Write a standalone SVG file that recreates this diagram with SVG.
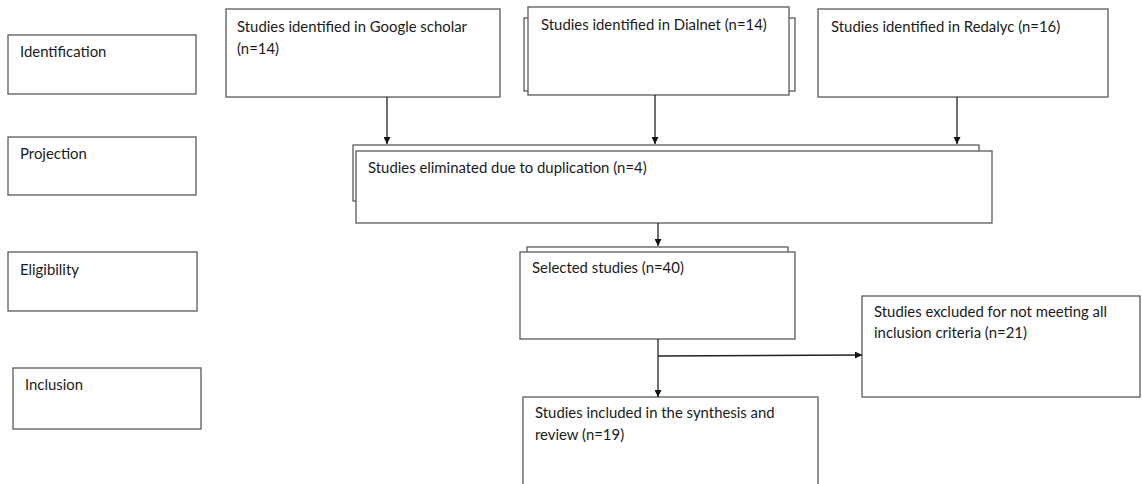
<svg xmlns="http://www.w3.org/2000/svg" width="1142" height="484" viewBox="0 0 1142 484">
<style>
.box{fill:#fff;stroke:#5a5a5a;stroke-width:1.3}
.back{fill:#fff;stroke:#5a5a5a;stroke-width:1.3}
.t{font-family:Lato,"Liberation Sans",sans-serif;font-size:14.9px;fill:#1a1a1a}
.c{fill:none;stroke:#222;stroke-width:1.3}
</style>
<defs>
<marker id="ah" viewBox="0 0 8 8" refX="8" refY="4" markerWidth="7" markerHeight="7" markerUnits="userSpaceOnUse" orient="auto">
<path d="M0,0 L8,4 L0,8 Z" fill="#111"/>
</marker>
</defs>
<rect width="1142" height="484" fill="#fff"/>
<g id="identification"><rect class="box" x="8" y="35" width="188" height="59"/><text class="t" x="20" y="57">Identification</text></g>
<g id="projection"><rect class="box" x="8" y="137" width="188" height="58"/><text class="t" x="20" y="159">Projection</text></g>
<g id="eligibility"><rect class="box" x="8" y="252" width="189" height="59"/><text class="t" x="20" y="275">Eligibility</text></g>
<g id="inclusion"><rect class="box" x="13" y="368" width="188" height="61"/><text class="t" x="25" y="390">Inclusion</text></g>
<g id="google"><rect class="box" x="226" y="9" width="274" height="88"/><text class="t" x="237" y="32">Studies identified in Google scholar</text><text class="t" x="237" y="54">(n=14)</text></g>
<g id="dialnet"><rect class="back" x="524" y="18" width="271" height="73"/><rect class="box" x="528" y="7" width="261" height="88"/><text class="t" x="541" y="30">Studies identified in Dialnet (n=14)</text></g>
<g id="redalyc"><rect class="box" x="818" y="9" width="290" height="88"/><text class="t" x="831" y="32">Studies identified in Redalyc (n=16)</text></g>
<g id="duplication"><rect class="back" x="353" y="145" width="626" height="56"/><rect class="box" x="356" y="151" width="636" height="72"/><text class="t" x="368" y="173">Studies eliminated due to duplication (n=4)</text></g>
<g id="selected"><rect class="back" x="527" y="247" width="261" height="40"/><rect class="box" x="520" y="252" width="275" height="87"/><text class="t" x="532" y="273">Selected studies (n=40)</text></g>
<g id="excluded"><rect class="box" x="862" y="296" width="278" height="101"/><text class="t" x="874" y="317">Studies excluded for not meeting all</text><text class="t" x="874" y="338">inclusion criteria (n=21)</text></g>
<g id="included"><rect class="box" x="523" y="397" width="295" height="100"/><text class="t" x="535" y="418">Studies included in the synthesis and</text><text class="t" x="535" y="440">review (n=19)</text></g>
<g id="connectors">
<line class="c" x1="387" y1="97" x2="387" y2="144" marker-end="url(#ah)"/>
<line class="c" x1="655" y1="95" x2="655" y2="144" marker-end="url(#ah)"/>
<line class="c" x1="957" y1="97" x2="957" y2="144" marker-end="url(#ah)"/>
<line class="c" x1="658" y1="223" x2="658" y2="246" marker-end="url(#ah)"/>
<line class="c" x1="658" y1="339" x2="658" y2="397" marker-end="url(#ah)"/>
<line class="c" x1="658" y1="356" x2="862" y2="355" marker-end="url(#ah)"/>
</g>
</svg>
